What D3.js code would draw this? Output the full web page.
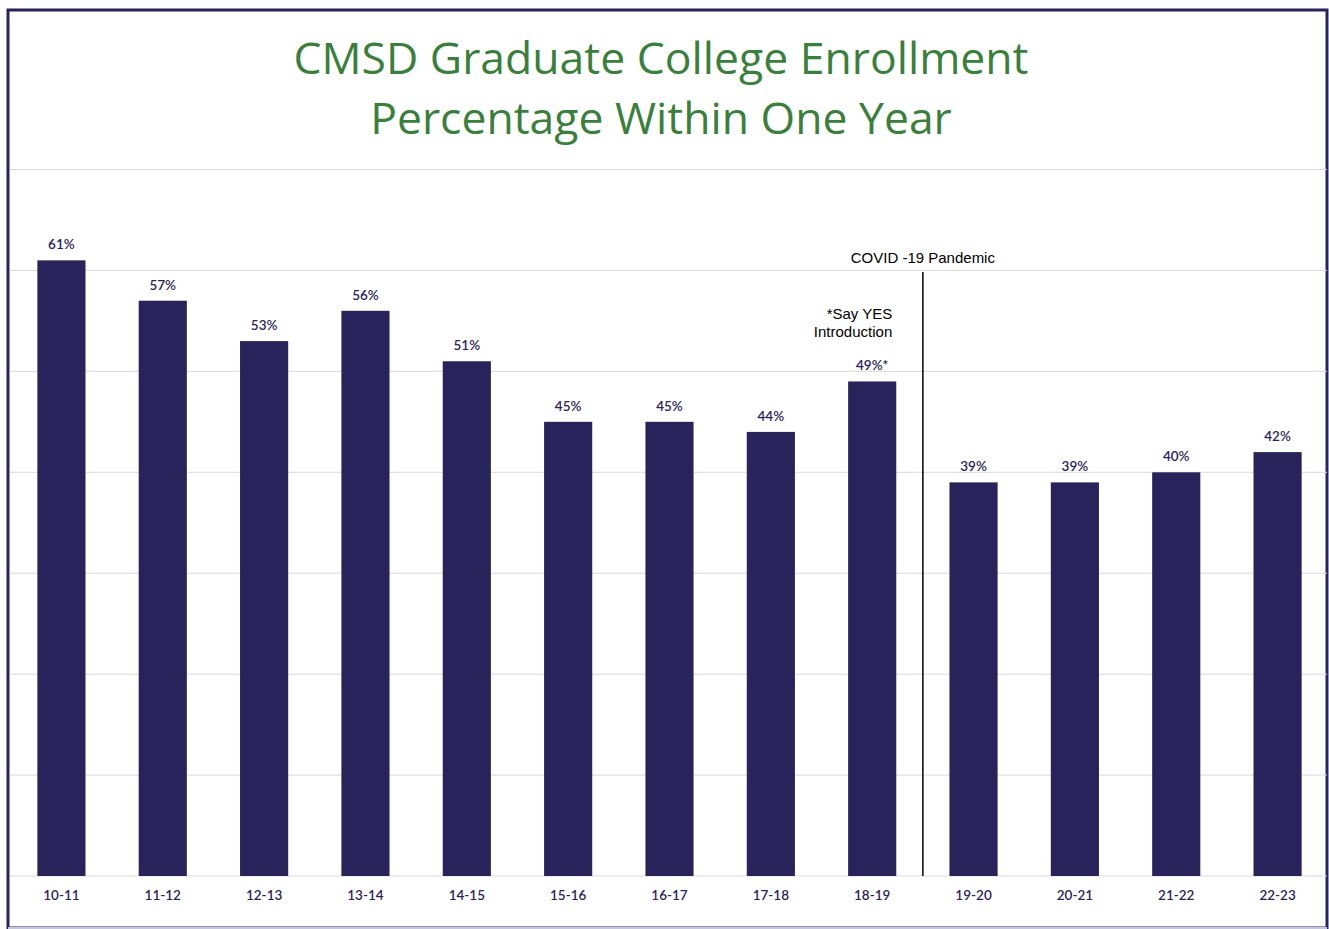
<!DOCTYPE html>
<html>
<head>
<meta charset="utf-8">
<script src="https://cdn.jsdelivr.net/npm/d3@7"></script>
<style>
  body { margin: 0; background: #fff; }
</style>
</head>
<body>
<svg width="1329" height="929"></svg>
<script>
const years = ['10-11', '11-12', '12-13', '13-14', '14-15', '15-16', '16-17', '17-18', '18-19', '19-20', '20-21', '21-22', '22-23']
const rates = [61, 57, 53, 56, 51, 45, 45, 44, 49, 39, 39, 40, 42]
const rateLabels = ['61%', '57%', '53%', '56%', '51%', '45%', '45%', '44%', '49%*', '39%', '39%', '40%', '42%']
const gridTicks = [0, 10, 20, 30, 40, 50, 60, 70]

const navy = '#29235c'

const svg = d3.select('svg')

// frame
svg.append('rect')
    .attr('x', 8).attr('y', 10)
    .attr('width', 1319).attr('height', 918)
    .attr('fill', 'none')
    .attr('stroke', navy)
    .attr('stroke-width', 3)
svg.append('line')
    .attr('x1', 8).attr('x2', 1327).attr('y1', 928).attr('y2', 928)
    .attr('stroke', '#c8c6dc').attr('stroke-width', 2)

const xScale = d3.scaleBand()
    .domain(years)
    .range([11, 1328])
    .paddingInner(0.525)
    .paddingOuter(0.26)

const yScale = d3.scaleLinear()
    .domain([0, 70])
    .range([876, 169.5])

// gridlines
svg.append('g')
    .selectAll('line')
    .data(gridTicks)
    .enter()
    .append('line')
    .attr('x1', 10).attr('x2', 1327)
    .attr('y1', d => yScale(d)).attr('y2', d => yScale(d))
    .attr('stroke', '#d9d9d9')
    .attr('stroke-width', 1)

// title
const titleLines = ['CMSD Graduate College Enrollment', 'Percentage Within One Year']
svg.selectAll('.title')
    .data(titleLines)
    .enter()
    .append('text')
    .attr('class', 'title')
    .attr('x', 661)
    .attr('y', (d, i) => 74 + i * 60)
    .attr('text-anchor', 'middle')
    .attr('font-family', '"Open Sans", sans-serif')
    .attr('font-size', 44.5)
    .attr('fill', '#3a7f3c')
    .text(d => d)

// bars
svg.append('g')
    .selectAll('rect')
    .data(rates)
    .enter()
    .append('rect')
    .attr('x', (d, i) => xScale(years[i]))
    .attr('y', d => yScale(d))
    .attr('width', xScale.bandwidth())
    .attr('height', d => yScale(0) - yScale(d))
    .attr('fill', navy)

// value labels
svg.append('g')
    .selectAll('text')
    .data(rates)
    .enter()
    .append('text')
    .attr('x', (d, i) => xScale(years[i]) + xScale.bandwidth() / 2)
    .attr('y', d => yScale(d) - 11)
    .attr('text-anchor', 'middle')
    .attr('font-family', 'Lato, sans-serif')
    .attr('font-size', 13.5)
    .attr('font-weight', 600)
    .attr('fill', navy)
    .text((d, i) => rateLabels[i])

// x axis
const xAxis = svg.append('g')
    .attr('transform', 'translate(0,876)')
    .call(d3.axisBottom(xScale).tickSize(0).tickPadding(14))
xAxis.select('.domain').remove()
xAxis.selectAll('text')
    .attr('font-family', 'Lato, sans-serif')
    .attr('font-size', 13.5)
    .attr('font-weight', 600)
    .attr('fill', navy)

// covid divider
const covidX = (xScale('18-19') + xScale.bandwidth() + xScale('19-20')) / 2
svg.append('line')
    .attr('x1', covidX).attr('x2', covidX)
    .attr('y1', 272).attr('y2', yScale(0))
    .attr('stroke', '#000')
    .attr('stroke-width', 1.5)
svg.append('text')
    .attr('x', covidX).attr('y', 263)
    .attr('text-anchor', 'middle')
    .attr('font-family', '"Liberation Sans", Arial, sans-serif')
    .attr('font-size', 15)
    .attr('fill', '#000')
    .text('COVID -19 Pandemic')

// say yes note
const noteX = xScale('18-19') + xScale.bandwidth() - 4
svg.append('text')
    .attr('x', noteX).attr('y', 319)
    .attr('text-anchor', 'end')
    .attr('font-family', '"Liberation Sans", Arial, sans-serif')
    .attr('font-size', 15)
    .attr('fill', '#000')
    .text('*Say YES')
svg.append('text')
    .attr('x', noteX).attr('y', 337)
    .attr('text-anchor', 'end')
    .attr('font-family', '"Liberation Sans", Arial, sans-serif')
    .attr('font-size', 15)
    .attr('fill', '#000')
    .text('Introduction')
</script>
</body>
</html>
